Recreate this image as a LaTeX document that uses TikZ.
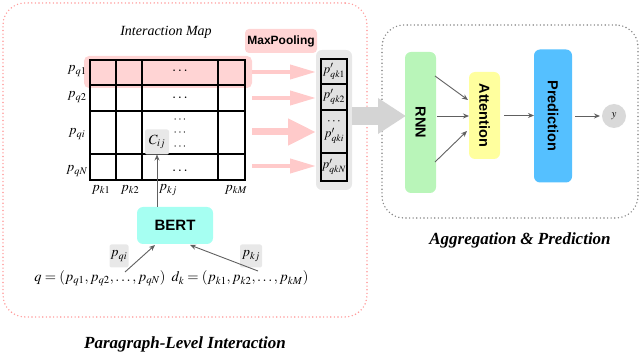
\documentclass[tikz,border=0pt]{standalone}
\usepackage{mathptmx}
\usepackage{fontspec}
\setmainfont{Liberation Serif}
\setsansfont{Liberation Sans}
\usetikzlibrary{arrows.meta,calc}
\definecolor{frameA}{HTML}{FF9C9C}
\definecolor{rowpink}{HTML}{FFD4D4}
\definecolor{arrpink}{HTML}{FFCACA}
\definecolor{poolgray}{HTML}{E8E8E8}
\definecolor{boxgray}{HTML}{E2E2E2}
\definecolor{biggray}{HTML}{D4D4D4}
\definecolor{rnngreen}{HTML}{B9F5B9}
\definecolor{attyellow}{HTML}{FFFF9E}
\definecolor{predblue}{HTML}{55C0FF}
\definecolor{bertcyan}{HTML}{A6FFF2}
\definecolor{ycirc}{HTML}{D9D9D9}
\definecolor{darkarr}{HTML}{606060}
\definecolor{frameB}{HTML}{888888}
\begin{document}
\begin{tikzpicture}[x=1pt,y=-1pt,
  every node/.style={inner sep=0pt, outer sep=0pt},
  lab/.style={font=\fontsize{14}{14}\selectfont},
  dotsn/.style={font=\fontsize{15}{15}\selectfont},
  pinkarr/.style={draw=arrpink, line width=4pt, -{Triangle[length=26pt,width=14pt]}},
  pinkarrbig/.style={draw=arrpink, line width=7pt, -{Triangle[length=28pt,width=25pt]}},
  darr/.style={draw=darkarr, line width=0.9pt, -{Stealth[length=6pt,width=5pt]}},
  poolbox/.style={draw=black, line width=1.2pt, fill=boxgray, minimum width=26pt, font=\fontsize{13}{13}\selectfont},
  stagebox/.style={rounded corners=6pt, font=\sffamily\bfseries\fontsize{14.5}{14.5}\selectfont},
  caption/.style={font=\bfseries\itshape\fontsize{17}{17}\selectfont},
  pdot/.style={line width=1.6pt, line cap=round, dash pattern=on 0pt off 3.6pt}
]
\useasboundingbox (0,0) rectangle (640,355);

% frames
\node[draw=frameA, pdot, rounded corners=22pt, minimum width=364pt, minimum height=314pt, anchor=north west] (leftframe) at (3,3) {};
\node[draw=frameB, pdot, rounded corners=22pt, minimum width=256pt, minimum height=193pt, anchor=north west] (rightframe) at (382,25) {};

% titles
\node[font=\itshape\fontsize{14}{14}\selectfont] (imap) at (166,32) {Interaction Map};
\node[fill=rowpink, rounded corners=4pt, minimum width=72pt, minimum height=24pt, font=\sffamily\bfseries\fontsize{12}{12}\selectfont] (maxpool) at (281,41) {MaxPooling};

% highlight of first row
\fill[rowpink, rounded corners=5pt] (84,56) rectangle (252,88);
% grid
\draw[line width=1.3pt] (90,60) rectangle (245,180);
\foreach \xx in {116,142,218} \draw[line width=1.3pt] (\xx,60) -- (\xx,180);
\foreach \yy in {85,111,154} \draw[line width=1.3pt] (90,\yy) -- (245,\yy);

% row labels
\node[lab] (rq1) at (77,71) {$p_{q1}$};
\node[lab] (rq2) at (77,97) {$p_{q2}$};
\node[lab] (rqi) at (77,134) {$p_{qi}$};
\node[lab] (rqN) at (77,171) {$p_{qN}$};
% column labels
\node[lab] (ck1) at (101,190) {$p_{k1}$};
\node[lab] (ck2) at (130,190) {$p_{k2}$};
\node[lab] (ckj) at (168,190) {$p_{kj}$};
\node[lab] (ckM) at (236,190) {$p_{kM}$};

% dots
\node[dotsn] (d1) at (180,71) {$\cdots$};
\node[dotsn] (d2) at (180,98) {$\cdots$};
\node[align=center, font=\fontsize{12}{13.5}\selectfont] (d3) at (180,133) {$\cdots$\\$\cdots$\\$\cdots$};
\node[dotsn] (d4) at (180,171) {$\cdots$};

% C_ij
\node[fill=poolgray, rounded corners=2pt, minimum width=24pt, minimum height=25pt, lab] (cij) at (157,142) {$C_{ij}$};

% pooled column
\node[fill=poolgray, rounded corners=6pt, minimum width=36pt, minimum height=140pt] (poolbg) at (334,120) {};
\node[poolbox, minimum height=25pt] (pk1) at (334,71.5) {$p'_{qk1}$};
\node[poolbox, minimum height=26pt] (pk2) at (334,97) {$p'_{qk2}$};
\node[poolbox, minimum height=43pt, align=center] (pki) at (334,131.5) {$\cdots$\\[0pt]$p'_{qki}$};
\node[poolbox, minimum height=28pt] (pkN) at (334,167) {$p'_{qkN}$};

% pink arrows
\coordinate (g1) at (252,72);
\coordinate (g2) at (252,98);
\coordinate (g3) at (252,132);
\coordinate (g4) at (252,166);
\draw[pinkarr] (g1) -- (g1 -| poolbg.west);
\draw[pinkarr] (g2) -- (g2 -| poolbg.west);
\draw[pinkarrbig] (g3) -- (g3 -| poolbg.west);
\draw[pinkarr] (g4) -- (g4 -| poolbg.west);

% BERT
\node[fill=bertcyan, rounded corners=6pt, minimum width=76pt, minimum height=37pt, font=\sffamily\bfseries\fontsize{15}{15}\selectfont] (bert) at (175,225.5) {BERT};
\draw[darr] (bert.north -| cij.south) -- (cij.south);

% input sequences
\node[font=\fontsize{14.5}{14.5}\selectfont] (qseq) at (100,278) {$q=(p_{q1},p_{q2},\ldots,p_{qN})$};
\node[font=\fontsize{14.5}{14.5}\selectfont] (dseq) at (240,278) {$d_k=(p_{k1},p_{k2},\ldots,p_{kM})$};
\node[fill=poolgray, rounded corners=2pt, minimum width=19pt, minimum height=23pt, lab] (pqi) at (119,256) {$p_{qi}$};
\node[fill=poolgray, rounded corners=2pt, minimum width=22pt, minimum height=23pt, lab] (pkj) at (251,256) {$p_{kj}$};
\coordinate (qa) at (125,272);
\coordinate (da) at (258,271);
\draw[darr] (qa) -- ($(bert.south)+(-20,1)$);
\draw[darr] (da) -- ($(bert.south)+(15,1)$);

% big gray arrow
\coordinate (ga) at (352,116);
\coordinate (gb) at (406,116);
\draw[draw=biggray, line width=18pt, -{Triangle[length=28pt,width=34pt]}] (ga) -- (gb);

% right stages
\node[fill=rnngreen, stagebox, minimum width=31pt, minimum height=141pt] (rnn) at (420.5,122.5) {\rotatebox{-90}{RNN}};
\node[fill=attyellow, stagebox, minimum width=31pt, minimum height=87pt] (att) at (484.5,115.5) {\rotatebox{-90}{Attention}};
\node[fill=predblue, stagebox, minimum width=38pt, minimum height=133pt] (pred) at (553,116) {\rotatebox{-90}{Prediction}};
\node[circle, fill=ycirc, minimum size=24pt, font=\fontsize{11}{11}\selectfont] (y) at (614,116) {$y$};

\coordinate (r1) at (435,76);
\coordinate (r2) at (437,116);
\coordinate (r3) at (435,162);
\coordinate (a1) at (468,100);
\coordinate (a3) at (467,131);
\draw[darr] (r1) -- (a1);
\draw[darr] (r2) -- (r2 -| att.west);
\draw[darr] (r3) -- (a3);
\draw[darr] ($(att.east)+(4,0)$) -- (pred.west |- att.east);
\draw[darr] ($(pred.east)+(3,0)$) -- ($(y.west)+(-2,0)$);

% captions
\node[caption] (capR) at (520,240) {Aggregation \& Prediction};
\node[caption] (capL) at (185,344) {Paragraph-Level Interaction};
\end{tikzpicture}
\end{document}
